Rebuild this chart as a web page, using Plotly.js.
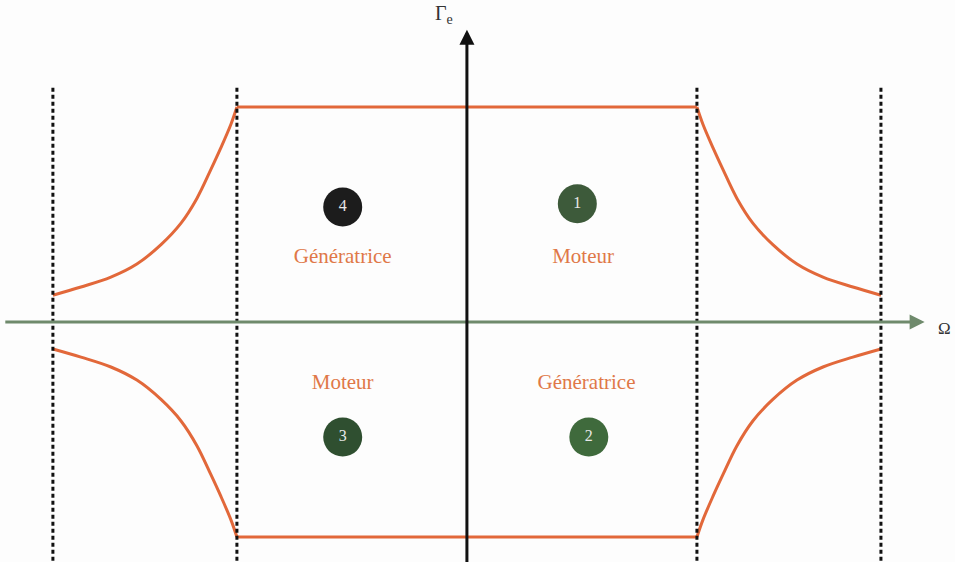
<!DOCTYPE html>
<html><head><meta charset="utf-8">
<script src="https://cdn.plot.ly/plotly-3.0.1.min.js"></script>
<style>html,body{margin:0;padding:0;background:#fff}</style>
</head><body><div id="chart" style="width:955px;height:562px"></div>
<script>
// Normalised speed (Ω/Ωb) and torque (Γe/Γmax) for the field-weakening curve (quadrant 1, mirrored)
const omegaCurve = [1.0, 1.026, 1.07, 1.113, 1.174, 1.243, 1.33, 1.435, 1.548, 1.678, 1.80];
const gammaCurve = [1.0, 0.92, 0.81, 0.71, 0.575, 0.46, 0.36, 0.27, 0.209, 0.163, 0.125];
// Constant-torque zone limits
const omegaBase = 1.0;
const omegaMax = 1.80;
const gammaMax = 1.0;
// Quadrant markers
const quadNumbers = ["1", "2", "3", "4"];
const quadOmega = [0.48, 0.53, -0.54, -0.54];
const quadGamma = [0.55, -0.535, -0.535, 0.535];
const quadColors = ["#3d5a3a", "#3f6a3c", "#2f4f30", "#1c1c1c"];
// Mode labels
const modeLabels = ["Moteur", "Génératrice", "Moteur", "Génératrice"];
const modeOmega = [0.505, 0.52, -0.54, -0.54];
const modeGamma = [0.30, -0.285, -0.285, 0.30];

const orange = "#e2683a";
const curveLine = {color: orange, width: 3};
const traces = [];
// four mirrored curves
[[1,1],[1,-1],[-1,-1],[-1,1]].forEach(([sx, sy]) => {
  traces.push({x: omegaCurve.map(v => v*sx), y: gammaCurve.map(v => v*sy),
    mode: "lines", line: Object.assign({shape: "spline", smoothing: 1}, curveLine), hoverinfo: "skip"});
});
// flat constant-torque segments
[1, -1].forEach(s => {
  traces.push({x: [-omegaBase, omegaBase], y: [gammaMax*s, gammaMax*s], mode: "lines", line: curveLine, hoverinfo: "skip"});
});
// dashed vertical limits
[-omegaMax, -omegaBase, omegaBase, omegaMax].forEach(xv => {
  traces.push({x: [xv, xv], y: [1.09, -1.13], mode: "lines",
    line: {color: "#111", width: 3, dash: "4px,3px"}, hoverinfo: "skip"});
});
// quadrant circles
traces.push({x: quadOmega, y: quadGamma, mode: "markers+text", text: quadNumbers,
  textposition: "middle center",
  textfont: {family: "Liberation Serif", size: 16, color: "#e8e8e8"},
  marker: {size: 39, color: quadColors, line: {width: 0}}, hoverinfo: "skip"});
// mode labels
traces.push({x: modeOmega, y: modeGamma, mode: "text", text: modeLabels,
  textposition: "middle center",
  textfont: {family: "Liberation Serif", size: 21, color: "#e07848"}, hoverinfo: "skip"});

const layout = {
  width: 955, height: 562,
  margin: {l: 0, r: 0, t: 0, b: 0},
  paper_bgcolor: "#fdfdfd", plot_bgcolor: "#fdfdfd",
  showlegend: false,
  xaxis: {range: [-2.03, 2.122], visible: false, fixedrange: true},
  yaxis: {range: [-1.116, 1.498], visible: false, fixedrange: true},
  annotations: [
    // horizontal speed axis
    {x: 1.99, y: 0, ax: -2.02, ay: 0, axref: "x", ayref: "y", xref: "x", yref: "y",
     showarrow: true, arrowhead: 2, arrowsize: 1, arrowwidth: 3, arrowcolor: "#6f8a6c", text: " "},
    // vertical torque axis
    {x: 0, y: 1.36, ax: 0, ay: -1.2, axref: "x", ayref: "y", xref: "x", yref: "y",
     showarrow: true, arrowhead: 2, arrowsize: 1, arrowwidth: 3, arrowcolor: "#111", text: " "},
    {x: -0.10, y: 1.43, xref: "x", yref: "y", showarrow: false,
     text: "Γ<sub>e</sub>", font: {family: "Liberation Serif", size: 20, color: "#333"}},
    {x: 0.998, y: 1 - 328/562, xref: "paper", yref: "paper", showarrow: false,
     xanchor: "right", yanchor: "middle",
     text: "Ω", font: {family: "Liberation Serif", size: 17, color: "#333"}}
  ]
};
Plotly.newPlot("chart", traces, layout, {displayModeBar: false, staticPlot: true});
</script></body></html>
